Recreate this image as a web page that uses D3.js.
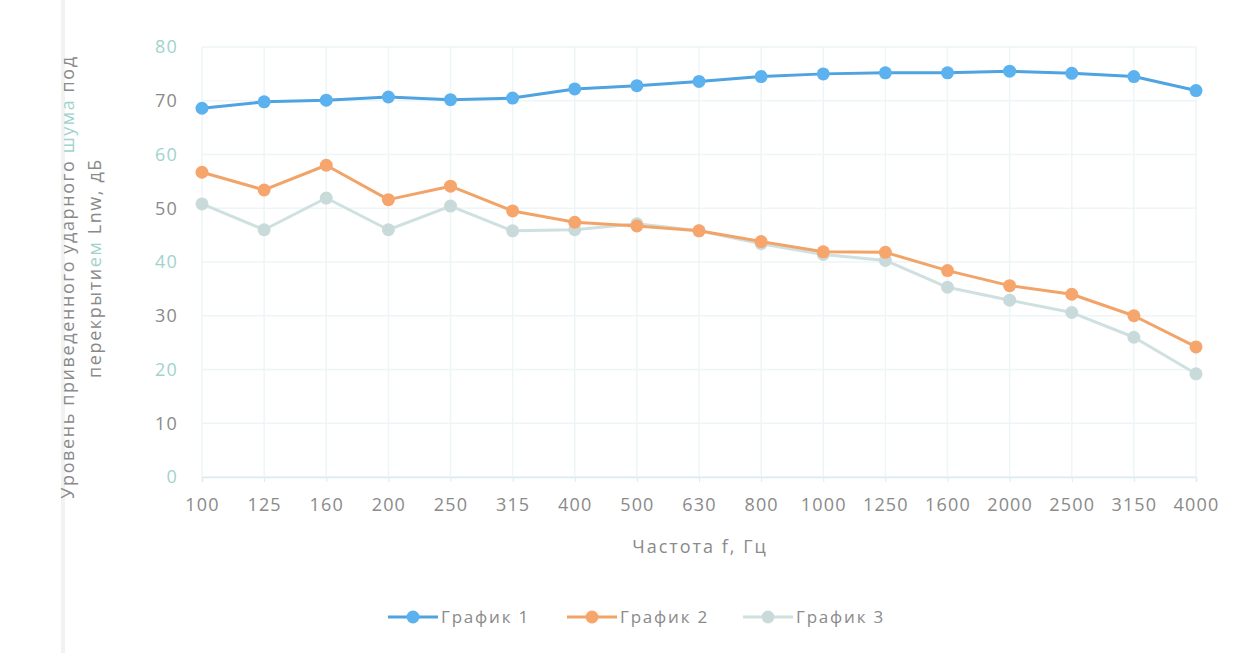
<!DOCTYPE html>
<html>
<head>
<meta charset="utf-8">
<script src="https://cdn.jsdelivr.net/npm/d3@7"></script>
<style>
  body { margin: 0; background: #fff; }
  svg text { font-family: "Open Sans", "Noto Sans", sans-serif; }
</style>
</head>
<body>
<svg id="chart" width="1248" height="653"></svg>
<script>
// данные
const frequencies = ['100', '125', '160', '200', '250', '315', '400', '500', '630', '800',
  '1000', '1250', '1600', '2000', '2500', '3150', '4000'];
const series1 = [68.6, 69.8, 70.1, 70.7, 70.2, 70.5, 72.2, 72.8, 73.6, 74.5,
  75.0, 75.2, 75.2, 75.5, 75.1, 74.5, 71.9];
const series2 = [56.7, 53.4, 58.0, 51.6, 54.1, 49.5, 47.4, 46.7, 45.8, 43.8,
  41.9, 41.8, 38.4, 35.6, 34.0, 30.0, 24.2];
const series3 = [50.8, 46.0, 51.9, 46.0, 50.4, 45.8, 46.0, 47.1, 45.8, 43.4,
  41.4, 40.3, 35.3, 32.9, 30.6, 26.0, 19.2];
const seriesNames = ['График 1', 'График 2', 'График 3'];
const yTicks = [0, 10, 20, 30, 40, 50, 60, 70, 80];

const config = {
  plot: { left: 202, right: 1196, top: 47, bottom: 477 },
  colors: [
    { line: '#4fa3e0', dot: '#5cb2ee' },
    { line: '#f2a468', dot: '#f6a66c' },
    { line: '#cfe0e0', dot: '#c9dada' },
  ],
  grid: '#eef5f6',
  text: '#8a8a8a',
  teal: '#9fd3cc',
};

const svg = d3.select('#chart');

// faint scan edge
svg.append('line').attr('x1', 63).attr('x2', 63).attr('y1', 0).attr('y2', 653)
  .attr('stroke', '#f1f3f3').attr('stroke-width', 4);

const x = d3.scalePoint()
  .domain(frequencies)
  .range([config.plot.left, config.plot.right]);

const y = d3.scaleLinear()
  .domain([0, 80])
  .range([config.plot.bottom, config.plot.top]);

// grid
svg.append('g')
  .selectAll('line')
  .data(yTicks)
  .join('line')
  .attr('x1', config.plot.left)
  .attr('x2', config.plot.right)
  .attr('y1', d => y(d))
  .attr('y2', d => y(d))
  .attr('stroke', config.grid)
  .attr('stroke-width', 1.5);

svg.append('g')
  .selectAll('line')
  .data(frequencies)
  .join('line')
  .attr('x1', d => x(d))
  .attr('x2', d => x(d))
  .attr('y1', config.plot.top)
  .attr('y2', config.plot.bottom)
  .attr('stroke', config.grid)
  .attr('stroke-width', 1.5);

// x axis
const xAxis = svg.append('g')
  .attr('transform', `translate(0,${config.plot.bottom})`)
  .call(d3.axisBottom(x).tickSize(5).tickPadding(16));
xAxis.select('.domain').attr('stroke', '#dcecee').attr('stroke-width', 1.5);
xAxis.selectAll('.tick line').attr('stroke', '#dcecee');
xAxis.selectAll('text')
  .attr('fill', config.text)
  .attr('font-size', 18)
  .attr('letter-spacing', 1.2);

// y axis
const yAxis = svg.append('g')
  .attr('transform', `translate(${config.plot.left},0)`)
  .call(d3.axisLeft(y).tickValues(yTicks).tickSize(0).tickPadding(24));
yAxis.select('.domain').remove();
yAxis.selectAll('text')
  .attr('fill', d => d % 20 === 0 ? config.teal : config.text)
  .attr('font-size', 18)
  .attr('letter-spacing', 1.2);

// axis titles
const yTitle1 = svg.append('text')
  .attr('transform', 'translate(74,277) rotate(-90)')
  .attr('text-anchor', 'middle')
  .attr('fill', config.text)
  .attr('font-size', 18)
  .attr('letter-spacing', 1.6);
yTitle1.append('tspan').text('Уровень приведенного ударного ');
yTitle1.append('tspan').attr('fill', config.teal).text('шума');
yTitle1.append('tspan').text(' под');

const yTitle2 = svg.append('text')
  .attr('transform', 'translate(101,268) rotate(-90)')
  .attr('text-anchor', 'middle')
  .attr('fill', config.text)
  .attr('font-size', 18)
  .attr('letter-spacing', 1.6);
yTitle2.append('tspan').text('перекрыти');
yTitle2.append('tspan').attr('fill', config.teal).text('ем');
yTitle2.append('tspan').text(' Lnw, дБ');

svg.append('text')
  .attr('x', 700)
  .attr('y', 553)
  .attr('text-anchor', 'middle')
  .attr('fill', config.text)
  .attr('font-size', 18)
  .attr('letter-spacing', 2)
  .text('Частота f, Гц');

// lines
const allSeries = [series1, series2, series3];
const line = d3.line()
  .x((d, i) => x(frequencies[i]))
  .y(d => y(d));

[2, 1, 0].forEach(k => {
  const g = svg.append('g');
  g.append('path')
    .datum(allSeries[k])
    .attr('d', line)
    .attr('fill', 'none')
    .attr('stroke', config.colors[k].line)
    .attr('stroke-width', 3)
    .attr('stroke-linejoin', 'round');
  g.selectAll('circle')
    .data(allSeries[k])
    .join('circle')
    .attr('cx', (d, i) => x(frequencies[i]))
    .attr('cy', d => y(d))
    .attr('r', 6.5)
    .attr('fill', config.colors[k].dot);
});

// legend
const legend = svg.append('g').attr('transform', 'translate(0,617)');
const legendX = [388, 567, 743];
seriesNames.forEach((name, k) => {
  const lg = legend.append('g').attr('transform', `translate(${legendX[k]},0)`);
  lg.append('line')
    .attr('x1', 0).attr('x2', 50)
    .attr('y1', 0).attr('y2', 0)
    .attr('stroke', config.colors[k].line)
    .attr('stroke-width', 3);
  lg.append('circle')
    .attr('cx', 25).attr('cy', 0).attr('r', 6.5)
    .attr('fill', config.colors[k].dot);
  lg.append('text')
    .attr('x', 53).attr('y', 6)
    .attr('fill', config.text)
    .attr('font-size', 17)
    .attr('letter-spacing', 1.8)
    .text(name);
});
</script>
</body>
</html>
